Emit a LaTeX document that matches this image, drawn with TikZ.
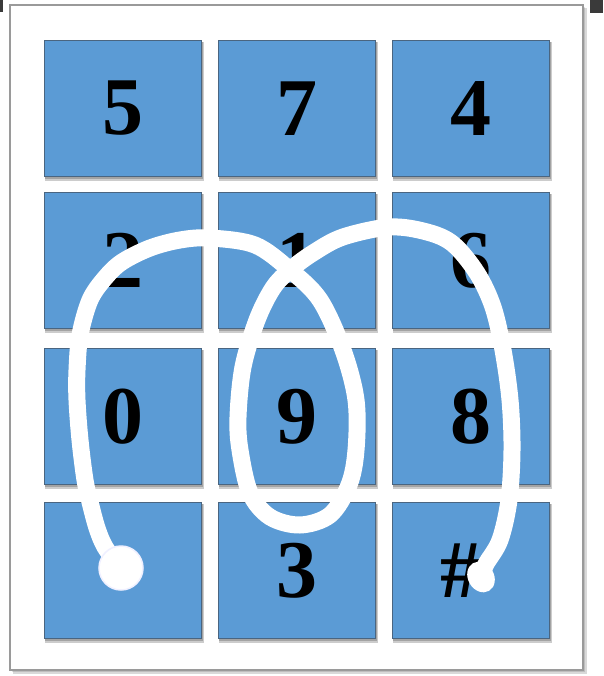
\documentclass[tikz,border=0pt]{standalone}
\usepackage{fontspec}
\setmainfont{Liberation Serif}
\definecolor{keyblue}{HTML}{5B9BD5}
\definecolor{keyedge}{HTML}{4A6580}
\definecolor{framegray}{HTML}{9A9A9A}
\definecolor{cornerdark}{HTML}{3A3A3A}
\begin{document}
\begin{tikzpicture}[x=1pt,y=-1pt,
  keybox/.style={fill=keyblue,draw=keyedge,line width=1pt},
  keyshadow/.style={fill=black,opacity=0.2},
  keylabel/.style={font=\bfseries\fontsize{82}{82}\selectfont,inner sep=0pt},
  pen/.style={draw=white,line width=17pt,line cap=round,line join=round}]
\useasboundingbox (0,0) rectangle (603,676);
\fill[white] (0,0) rectangle (603,676);
% corner artefacts
\fill[cornerdark] (0,0) rectangle (3,12);
\fill[cornerdark] (590,0) rectangle (603,13);
% frame with shadow
\fill[black,opacity=0.15] (13,8) rectangle (587,674);
\fill[black,opacity=0.12] (12,7) rectangle (585,672);
\filldraw[fill=white,draw=framegray,line width=2pt] (10,5) rectangle (583,670);
% keys
\foreach \c/\xa in {1/44,2/218,3/392}{
  \foreach \r/\ya in {1/40,2/192,3/348,4/502}{
    \fill[keyshadow] (\xa+1,\ya+2) rectangle (\xa+160,\ya+141);
    \fill[keyshadow] (\xa+1,\ya+2) rectangle (\xa+159,\ya+139);
    \node[keybox,minimum width=157pt,minimum height=136pt,anchor=north west,inner sep=0pt]
      (k\r\c) at (\xa,\ya) {};
  }
}
% labels
\node[keylabel] (l5) at (k11.center) {5};
\node[keylabel] (l7) at (k12.center) {7};
\node[keylabel] (l4) at (k13.center) {4};
\node[keylabel] (l2) at (k21.center) {2};
\node[keylabel] (l1) at (k22.center) {1};
\node[keylabel] (l6) at (k23.center) {6};
\node[keylabel] (l0) at (k31.center) {0};
\node[keylabel] (l9) at (k32.center) {9};
\node[keylabel] (l8) at (k33.center) {8};
\node[keylabel] (l3) at (k42.center) {3};
\node[keylabel] (lh) at ([xshift=-10pt]k43.center) {\#};
% swipe pattern
\draw[pen] plot[smooth,tension=0.55] coordinates {
 (120,568) (105,547) (97,528) (90,502) (85,480) (80,440) (77,400) (77,370)
 (80,335) (90,300) (105,278) (122,262) (150,248) (180,240) (210,238)
 (255,245) (290,270) (320,300) (343,350) (356,400) (356,450) (349,485)
 (330,515) (300,525) (270,517) (250,493) (240,450) (238,417) (243,367)
 (257,320) (273,288) (290,270) (313,253) (343,237) (390,227) (427,232)
 (453,244) (477,273) (493,307) (503,350) (510,400) (512,450) (509,500)
 (500,540) (486,564) (480,578)};
\fill[white,rotate around={30:(481,577)}] (481,577) ellipse (13pt and 16pt);
\filldraw[fill=white,draw=blue!6,line width=1.5pt] (121,568) circle (22pt);
\end{tikzpicture}
\end{document}
